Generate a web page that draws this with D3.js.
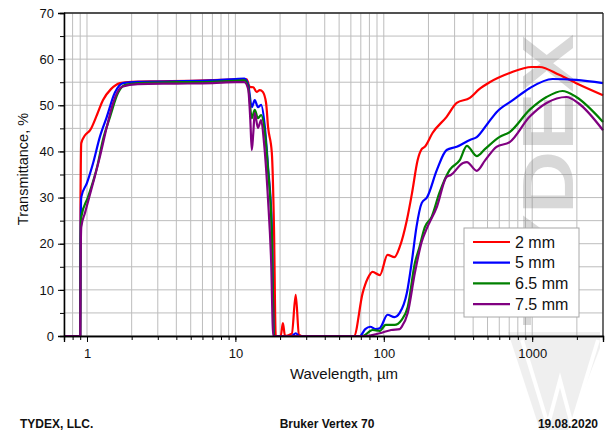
<!DOCTYPE html>
<html>
<head>
<meta charset="utf-8">
<script src="https://cdn.jsdelivr.net/npm/d3@7"></script>
<style>
  body { margin: 0; background: #fff; }
  svg { font-family: "Liberation Sans", Arial, sans-serif; }
</style>
</head>
<body>
<script>
var width = 606;
var height = 433;

// series: [wavelength um, transmittance %]
var t2mm = [[0.7,0],[0.9,0],[0.905,30],[0.915,41.8],[0.97,43.5],[1.05,44.6],[1.17,48],[1.28,51.1],[1.45,53.5],[1.67,54.8],
  [2,55.1],[3,55.2],[5,55.3],[8,55.5],[11,55.7],[11.9,55.6],[12.5,54.0],[13.2,53.9],[13.9,52.9],[14.6,53.3],[15.3,52.9],
  [16.1,50.5],[16.6,45.3],[17.6,39.7],[18.2,23.6],[18.7,0],[20.2,0],[20.9,2.8],[21.6,0],[24,0.5],[25.5,8.9],[26.8,0.3],
  [28,0],[63,0],[72,9.3],[78,12.5],[84,13.9],[94,13.2],[106,17.6],[118,17.1],[128,19.3],[143,25.1],[155,31.0],
  [169,38.1],[180,40.5],[189,41.0],[213,44.0],[265,47.5],[310,50.5],[380,51.6],[440,53.5],[517,55.0],[705,57.0],
  [992,58.3],[1120,58.3],[1520,56.6],[1980,54.8],[3000,52.2]];

var t5mm = [[0.7,0],[0.9,0],[0.905,20],[0.915,30.1],[1.0,33.2],[1.1,37.5],[1.22,43.1],[1.36,47.5],[1.54,52.7],[1.75,54.8],
  [2.2,55.1],[4,55.2],[7,55.4],[10,55.7],[11.5,55.8],[12.2,54.5],[12.9,49.6],[13.5,51.1],[14.2,49.6],[14.9,50.1],
  [15.8,45.3],[16.6,36.6],[17.6,23.6],[18.2,0],[24,0],[25.5,0.6],[27,0],[69,0],[75,1.5],[81,2.0],[88,1.5],[94,1.7],
  [106,4.6],[118,4.1],[128,5.0],[143,9.3],[155,16.5],[166,23.6],[180,28.8],[196,30.1],[228,36.0],[265,40.3],
  [310,41.0],[380,42.5],[423,43.1],[500,46],[575,48.5],[740,51.1],[960,53.7],[1370,55.7],[1980,55.5],[3000,54.8]];

var t65mm = [[0.7,0],[0.9,0],[0.905,18],[0.915,25.8],[1.016,30.1],[1.17,36.6],[1.28,42.5],[1.43,47.5],[1.62,52.7],[1.8,54.4],
  [2.3,54.8],[4,55.0],[7,55.1],[10,55.3],[11.5,55.4],[12.2,54],[12.9,47.2],[13.5,49.0],[14.2,47.2],[14.9,47.9],
  [15.8,44],[16.6,36],[17.6,22],[18.2,0],[72,0],[84,1.3],[94,1.1],[103,2.4],[118,2.4],[132,3.5],[145,6.3],
  [162,15.8],[174,19.3],[189,23.6],[210,25.8],[237,31.0],[278,36.0],[325,38.1],[363,41.2],[423,39.0],[480,40.5],
  [600,43.1],[705,44.2],[960,49.0],[1250,51.8],[1600,53.1],[1980,51.8],[3000,46.4]];

var t75mm = [[0.7,0],[0.9,0],[0.905,15],[0.915,23.6],[0.97,26.7],[1.1,33.2],[1.22,38.8],[1.36,45.3],[1.5,50.5],[1.72,54.0],
  [2.2,54.6],[4,54.7],[7,54.8],[10,55.0],[11.5,55.0],[12.2,53.5],[12.6,47],[12.9,40.3],[13.2,44],[13.5,48.3],
  [14.2,45.1],[14.9,46.8],[15.6,41.8],[16.6,29.5],[17.4,16.5],[18.0,0],[75,0],[94,0.6],[112,1.3],[128,1.5],
  [132,2.0],[145,5.0],[162,13.7],[180,20.4],[193,23.0],[228,28.0],[265,34.5],[283,34.9],[342,37.5],[363,37.7],
  [423,35.8],[480,38],[575,41.0],[705,42.0],[960,47.5],[1250,50.5],[1700,51.8],[2040,50.5],[3000,44.6]];

var seriesNames = ["2 mm", "5 mm", "6.5 mm", "7.5 mm"];
var seriesColors = ["#ff0000", "#0000ff", "#008000", "#800080"];
var seriesData = [t2mm, t5mm, t65mm, t75mm];

var yTicks = [0, 10, 20, 30, 40, 50, 60, 70];
var xMajor = [1, 10, 100, 1000];

var svg = d3.select("body")
  .append("svg")
  .attr("width", width)
  .attr("height", height);

var x = d3.scaleLog().domain([0.7, 3000]).range([64, 603]);
var y = d3.scaleLinear().domain([0, 70]).range([336, 13]);

// every log tick in range
var xMinor = [];
[0.1, 1, 10, 100, 1000].forEach(function(dec) {
  for (var k = 1; k <= 9; k++) {
    var v = +(dec * k).toPrecision(3);
    if (v >= 0.7 && v <= 3000) xMinor.push(v);
  }
});
var yMinor = d3.range(0, 71, 5);

// grid
svg.append("g").selectAll("line")
  .data(xMinor)
  .enter().append("line")
    .attr("x1", function(d) { return x(d); })
    .attr("x2", function(d) { return x(d); })
    .attr("y1", y(0))
    .attr("y2", y(70))
    .attr("stroke", "#bdbdbd")
    .attr("stroke-width", 1);

svg.append("g").selectAll("line")
  .data(yMinor)
  .enter().append("line")
    .attr("x1", x(0.7))
    .attr("x2", x(3000))
    .attr("y1", function(d) { return y(d); })
    .attr("y2", function(d) { return y(d); })
    .attr("stroke", "#bdbdbd")
    .attr("stroke-width", 1);

// watermark
var wm = svg.append("g").attr("opacity", 0.33);
wm.append("text")
  .attr("transform", "translate(573,326) rotate(-90)")
  .attr("font-size", 72)
  .attr("font-weight", "bold")
  .attr("textLength", 292)
  .attr("lengthAdjust", "spacingAndGlyphs")
  .attr("fill", "#8a8a8a")
  .text("TYDEX");
wm.append("path")
  .attr("d", "M508,332 L600,332 L600,348 L568,430 L540,430 Z")
  .attr("fill", "#b0b0b0")
  .attr("opacity", 0.6);
wm.append("path")
  .attr("d", "M522,340 L548,425 L560,380 L572,425 L598,340")
  .attr("fill", "none")
  .attr("stroke", "#fff")
  .attr("stroke-width", 4);

// curves
var line = d3.line()
  .x(function(d) { return x(d[0]); })
  .y(function(d) { return y(d[1]); })
  .curve(d3.curveMonotoneX);

svg.append("g").selectAll("path")
  .data(seriesData)
  .enter().append("path")
    .attr("d", line)
    .attr("fill", "none")
    .attr("stroke", function(d, i) { return seriesColors[i]; })
    .attr("stroke-width", 2.2)
    .attr("stroke-linejoin", "round");

// frame
svg.append("line")
  .attr("x1", x(0.7)).attr("x2", x(3000))
  .attr("y1", y(70)).attr("y2", y(70))
  .attr("stroke", "#222").attr("stroke-width", 1.5);
svg.append("line")
  .attr("x1", x(3000)).attr("x2", x(3000))
  .attr("y1", y(70)).attr("y2", y(0))
  .attr("stroke", "#222").attr("stroke-width", 1.2);

// axes
var xAxisMinor = svg.append("g")
  .attr("transform", "translate(0," + y(0) + ")")
  .call(d3.axisBottom(x).tickValues(xMinor).tickSize(4).tickFormat(""));
var xAxis = svg.append("g")
  .attr("transform", "translate(0," + y(0) + ")")
  .call(d3.axisBottom(x).tickValues(xMajor).tickSize(6).tickPadding(7)
    .tickFormat(d3.format("d")));

var yAxisMinor = svg.append("g")
  .attr("transform", "translate(" + x(0.7) + ",0)")
  .call(d3.axisLeft(y).tickValues(yMinor).tickSize(4).tickFormat(""));
var yAxis = svg.append("g")
  .attr("transform", "translate(" + x(0.7) + ",0)")
  .call(d3.axisLeft(y).tickValues(yTicks).tickSize(6).tickPadding(4));

[xAxisMinor, xAxis, yAxisMinor, yAxis].forEach(function(a) {
  a.select(".domain").attr("stroke", "#000").attr("stroke-width", 1.3);
  a.selectAll(".tick line").attr("stroke", "#000");
  a.selectAll("text").attr("font-size", 13).attr("font-family", "Liberation Sans, Arial, sans-serif").attr("fill", "#111");
});

// titles
svg.append("text")
  .attr("x", 344)
  .attr("y", 379)
  .attr("text-anchor", "middle")
  .attr("font-size", 15)
  .attr("fill", "#111")
  .text("Wavelength, µm");

svg.append("text")
  .attr("transform", "translate(28,169) rotate(-90)")
  .attr("text-anchor", "middle")
  .attr("font-size", 14.5)
  .attr("fill", "#111")
  .text("Transmittance, %");

// legend
var legend = svg.append("g").attr("transform", "translate(464,228)");
legend.append("rect")
  .attr("width", 115)
  .attr("height", 89)
  .attr("fill", "#fff")
  .attr("stroke", "#a8a8a8");
var rows = legend.selectAll("g.row")
  .data(seriesNames)
  .enter().append("g")
    .attr("class", "row")
    .attr("transform", function(d, i) { return "translate(0," + (14 + i * 20.7) + ")"; });
rows.append("line")
  .attr("x1", 9).attr("x2", 46)
  .attr("stroke", function(d, i) { return seriesColors[i]; })
  .attr("stroke-width", 2.2);
rows.append("text")
  .attr("x", 51)
  .attr("dy", "0.36em")
  .attr("font-size", 16)
  .attr("fill", "#111")
  .text(function(d) { return d; });

// footer
var footer = [["TYDEX, LLC.", 20, "start"], ["Bruker Vertex 70", 327, "middle"], ["19.08.2020", 598, "end"]];
svg.append("g").selectAll("text")
  .data(footer)
  .enter().append("text")
    .attr("x", function(d) { return d[1]; })
    .attr("y", 428)
    .attr("text-anchor", function(d) { return d[2]; })
    .attr("font-size", 12)
    .attr("font-weight", "bold")
    .attr("fill", "#111")
    .text(function(d) { return d[0]; });
</script>
</body>
</html>
